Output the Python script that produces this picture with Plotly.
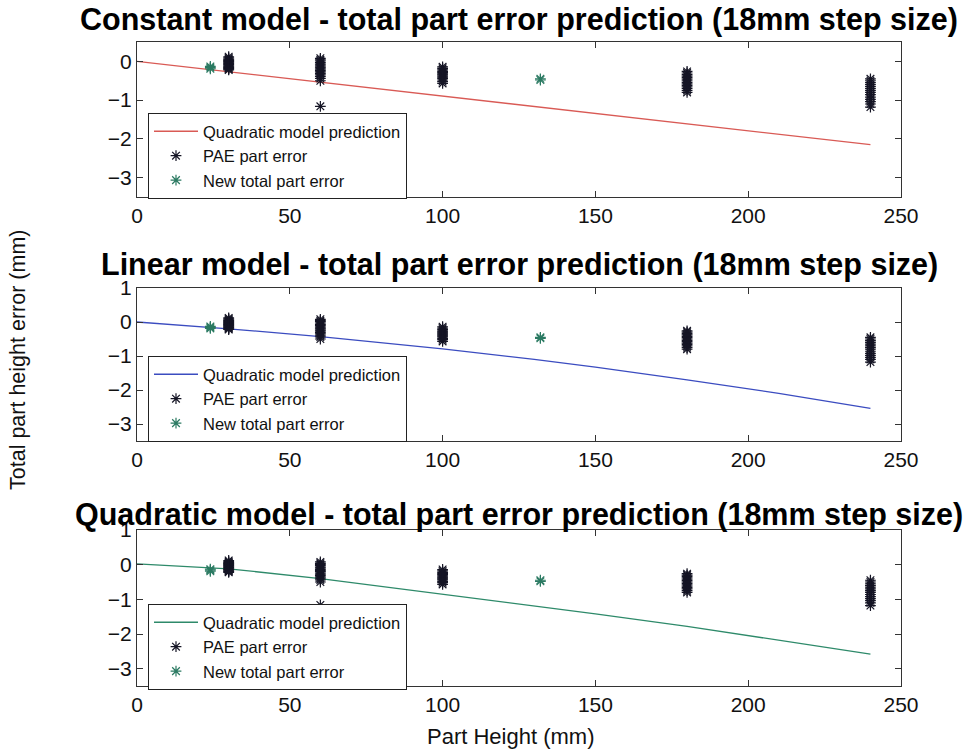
import plotly.graph_objects as go

# ---- data -------------------------------------------------------------
# Prediction curves (part height in mm -> predicted total error in mm)
pred_heights = [0, 30, 60, 100, 130, 150, 180, 210, 240]
constant_pred = [0.0, -0.27, -0.54, -0.90, -1.17, -1.34, -1.61, -1.88, -2.15]
linear_pred = [0.0, -0.20, -0.43, -0.79, -1.10, -1.33, -1.70, -2.10, -2.54]
quadratic_pred = [0.02, -0.12, -0.40, -0.85, -1.20, -1.42, -1.78, -2.17, -2.58]

# PAE part error measurements, grouped by nominal part height
pae_30 = [0.12, 0.09, 0.06, 0.04, 0.02, 0.00, -0.02, -0.04, -0.06, -0.08,
          -0.10, -0.12, -0.14, -0.16, -0.18, -0.20, -0.22]
pae_60 = [0.08, 0.04, 0.01, -0.03, -0.07, -0.10, -0.14, -0.17, -0.20, -0.24,
          -0.27, -0.31, -0.35, -0.39, -0.44, -0.50, -1.16]
pae_100 = [-0.14, -0.18, -0.22, -0.26, -0.29, -0.32, -0.35, -0.38, -0.41,
           -0.44, -0.48, -0.52, -0.57]
pae_180 = [-0.26, -0.30, -0.34, -0.38, -0.42, -0.46, -0.50, -0.54, -0.58,
           -0.62, -0.66, -0.70, -0.75, -0.80]
pae_240 = [-0.45, -0.50, -0.55, -0.60, -0.65, -0.70, -0.75, -0.80, -0.86,
           -0.92, -0.98, -1.04, -1.10, -1.18]

# New total part error measurements
new_heights = [24, 24, 24, 132, 132]
new_errors = [-0.13, -0.16, -0.19, -0.45, -0.48]

models = ["Constant", "Linear", "Quadratic"]
model_preds = [constant_pred, linear_pred, quadratic_pred]
line_colors = ["#d95a55", "#3b4cc0", "#2e8a6a"]
y_ranges = [[-3.5, 0.5], [-3.5, 1.0], [-3.5, 1.0]]
x_ticks = [0, 50, 100, 150, 200, 250]

pae_x, pae_y = [], []
for h, vals in [(30, pae_30), (60, pae_60), (100, pae_100),
                (180, pae_180), (240, pae_240)]:
    pae_x += [h] * len(vals)
    pae_y += vals

# ---- layout geometry (pixels of a 972 x 753 page) -----------------------
W, H = 972, 753
L, R = 137, 901
PW = R - L
panel_px = [(42, 197), (288, 441), (530, 686)]   # top, bottom of each panel
legend_top_px = [113, 356, 604]
title_px = [20, 264, 514]

fig = go.Figure()
FONT = "Liberation Sans, Arial, sans-serif"

for i, (name, preds, col) in enumerate(zip(models, model_preds, line_colors)):
    n = "" if i == 0 else str(i + 1)
    leg = "legend" + n
    fig.add_trace(go.Scatter(
        x=pred_heights, y=preds, mode="lines",
        line=dict(color=col, width=1.3),
        name="Quadratic model prediction",
        xaxis="x" + n, yaxis="y" + n, legend=leg))
    fig.add_trace(go.Scatter(
        x=pae_x, y=pae_y, mode="markers",
        marker=dict(symbol="asterisk-open", size=9, color="#151525",
                    line=dict(color="#151525", width=1.2)),
        name="PAE part error",
        xaxis="x" + n, yaxis="y" + n, legend=leg))
    fig.add_trace(go.Scatter(
        x=new_heights, y=new_errors, mode="markers",
        marker=dict(symbol="asterisk-open", size=9, color="#2b7a62",
                    line=dict(color="#2b7a62", width=1.2)),
        name="New total part error",
        xaxis="x" + n, yaxis="y" + n, legend=leg))

    top, bot = panel_px[i]
    axis_common = dict(
        showline=True, linecolor="#333333", linewidth=1, mirror="ticks",
        ticks="inside", ticklen=6, tickcolor="#333333", showgrid=False,
        zeroline=False, tickfont=dict(family=FONT, size=21, color="#111111"))
    fig.update_layout(**{
        "xaxis" + n: dict(domain=[0, 1], range=[0, 250], tickvals=x_ticks,
                          anchor="y" + n, **axis_common),
        "yaxis" + n: dict(domain=[1 - bot / H, 1 - top / H], range=y_ranges[i],
                          dtick=1, anchor="x" + n, **axis_common),
        leg: dict(x=(148 - L) / PW, y=1 - legend_top_px[i] / H, xref="paper",
                  yref="paper", xanchor="left", yanchor="top",
                  bgcolor="white", bordercolor="#222222", borderwidth=1,
                  font=dict(family=FONT, size=16.5, color="#111111"),
                  itemwidth=44, tracegroupgap=0),
    })
    fig.add_annotation(
        text="<b>%s model - total part error prediction (18mm step size)</b>" % name,
        xref="paper", yref="paper", x=0.5, y=1 - title_px[i] / H,
        xanchor="center", yanchor="middle", showarrow=False,
        font=dict(family=FONT, size=30.5, color="#000000"))

fig.add_annotation(text="Part Height (mm)", xref="paper", yref="paper",
                   x=(425 - L) / PW, y=1 - 736 / H, showarrow=False,
                   xanchor="left", yanchor="middle",
                   font=dict(family=FONT, size=22, color="#111111"))
fig.add_annotation(text="Total part height error (mm)", xref="paper", yref="paper",
                   x=(18 - L) / PW, y=1 - 492 / H, showarrow=False,
                   textangle=-90, xanchor="center", yanchor="bottom",
                   font=dict(family=FONT, size=21.5, color="#111111"))

fig.update_layout(
    width=W, height=H, autosize=False,
    margin=dict(l=L, r=W - R, t=0, b=0, autoexpand=False),
    paper_bgcolor="white", plot_bgcolor="white",
    showlegend=True,
)

fig.write_html("out.html")
